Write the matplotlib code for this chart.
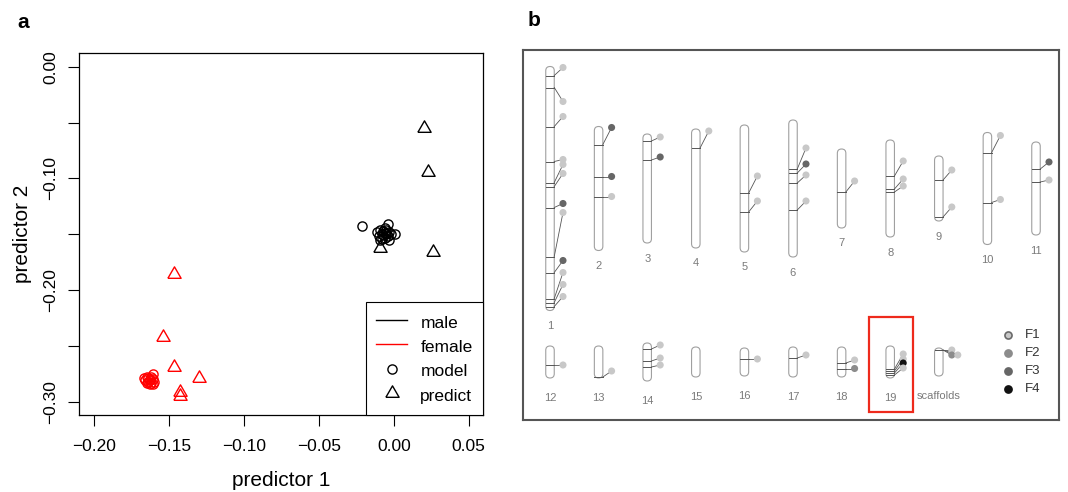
import numpy as np
import matplotlib
matplotlib.use('Agg')
import matplotlib.pyplot as plt
from matplotlib.patches import FancyBboxPatch, Rectangle
from matplotlib.lines import Line2D
from matplotlib.ticker import FuncFormatter

plt.rcParams['font.family'] = ['Liberation Sans', 'DejaVu Sans']

# ---- panel a: discriminant scores ----
male_model_x = [-0.021, -0.011, -0.010, -0.009, -0.008, -0.008, -0.007, -0.007, -0.006, -0.006,
                -0.005, -0.005, -0.004, -0.004, -0.003, -0.003, -0.002, 0.001, -0.009, -0.006]
male_model_y = [-0.143, -0.148, -0.152, -0.146, -0.150, -0.154, -0.147, -0.151, -0.149, -0.153,
                -0.146, -0.150, -0.141, -0.152, -0.148, -0.155, -0.150, -0.150, -0.155, -0.144]
male_pred_x = [0.020, 0.023, 0.026, -0.009]
male_pred_y = [-0.055, -0.094, -0.166, -0.162]

female_model_x = [-0.167, -0.166, -0.165, -0.164, -0.164, -0.163, -0.163, -0.162,
                  -0.162, -0.161, -0.161, -0.160, -0.165, -0.161, -0.163]
female_model_y = [-0.279, -0.281, -0.278, -0.282, -0.279, -0.281, -0.284, -0.278,
                  -0.283, -0.275, -0.280, -0.282, -0.283, -0.284, -0.280]
female_pred_x = [-0.147, -0.154, -0.147, -0.130, -0.143, -0.143]
female_pred_y = [-0.186, -0.242, -0.269, -0.279, -0.291, -0.295]

x_ticks = [-0.20, -0.15, -0.10, -0.05, 0.00, 0.05]
y_ticks = [0.00, -0.05, -0.10, -0.15, -0.20, -0.25, -0.30]
y_tick_labels = ['0.00', '', '\u22120.10', '', '\u22120.20', '', '\u22120.30']

# ---- panel b: marker positions on chromosomes ----
chrom_names = ['1', '2', '3', '4', '5', '6', '7', '8', '9', '10', '11',
               '12', '13', '14', '15', '16', '17', '18', '19', 'scaffolds']
chrom_len = [244, 124, 109, 119, 127, 137, 79, 97, 65, 112, 93,
             32, 32, 38, 30, 28, 30, 30, 32, 28]

# one entry per marker: chromosome index, locus position, label dot position, family, stack column
marker_chrom = [0] * 12 + [1] * 3 + [2] * 2 + [3] + [4] * 2 + [5] * 4 + [6] + [7] * 3 + [8] * 2 \
    + [9] * 2 + [10] * 2 + [11] + [12] + [13] * 3 + [15] + [16] + [17] * 2 + [18] * 4 + [19] * 3
marker_pos = [9, 21, 60, 95, 116, 120, 141, 190, 206, 232, 236, 240,
              18, 50, 70,
              7, 26,
              19,
              68, 87,
              49, 53, 63, 90,
              43,
              36, 49, 52,
              24, 61,
              20, 70,
              27, 40,
              19,
              31,
              6, 18, 24,
              11,
              11,
              16, 21.5,
              23, 25, 27, 29,
              2, 2, 2]
marker_dot = [1, 35, 50, 93, 98, 107, 137, 146, 194, 206, 218, 230,
              1, 50, 70,
              3, 23,
              2,
              51, 76,
              28, 44, 55, 81,
              32,
              21, 39, 46,
              14, 51,
              3, 67,
              20, 38,
              19,
              25,
              2, 15, 22,
              11,
              8,
              13, 21.5,
              8, 13, 17, 22,
              2, 7, 7]
marker_family = [1, 1, 1, 1, 1, 1, 3, 1, 3, 1, 1, 1,
                 3, 3, 1,
                 1, 3,
                 1,
                 1, 1,
                 1, 3, 1, 1,
                 1,
                 1, 1, 1,
                 1, 1,
                 1, 1,
                 3, 1,
                 1,
                 1,
                 1, 1, 1,
                 1,
                 1,
                 1, 2,
                 1, 1, 4, 1,
                 1, 2, 1]
marker_col = [0] * (len(marker_pos) - 1) + [1]

family_names = ['F1', 'F2', 'F3', 'F4']
family_colors = {1: '#c8c8c8', 2: '#8c8c8c', 3: '#666666', 4: '#111111'}
highlight_chrom = 18

fig = plt.figure(figsize=(10.68, 4.92), dpi=100)

# ---------------- panel a ----------------
ax = fig.add_axes([79 / 1068, 77 / 492, 404 / 1068, 362 / 492])
tri = [(-1.0, -0.577), (1.0, -0.577), (0.0, 1.155), (-1.0, -0.577)]
ax.plot(male_model_x, male_model_y, ls='none', marker='o', ms=6.6, mfc='none', mec='black', mew=1.0)
ax.plot(male_pred_x, male_pred_y, ls='none', marker=tri, ms=11, mfc='none', mec='black', mew=1.0)
ax.plot(female_model_x, female_model_y, ls='none', marker='o', ms=6.6, mfc='none', mec='red', mew=1.0)
ax.plot(female_pred_x, female_pred_y, ls='none', marker=tri, ms=11, mfc='none', mec='red', mew=1.0)

ax.set_xlim(-0.2102, 0.0596)
ax.set_ylim(-0.3119, 0.0123)
ax.set_xticks(x_ticks)
ax.xaxis.set_major_formatter(FuncFormatter(lambda v, _: f"{v:.2f}".replace('-', '\u2212')))
ax.set_yticks(y_ticks)
ax.set_yticklabels(y_tick_labels)
ax.tick_params(axis='both', direction='out', length=8, width=0.8, labelsize=12.5, colors='black')
ax.tick_params(axis='x', pad=9)
ax.tick_params(axis='y', pad=7, labelrotation=90)
plt.setp(ax.get_yticklabels(), va='center')
for s in ax.spines.values():
    s.set_linewidth(0.9)

ax.set_xlabel('predictor 1', fontsize=15)
ax.set_ylabel('predictor 2', fontsize=15)
ax.xaxis.label.set_va('center')
ax.xaxis.set_label_coords(0.5, (415 - 481) / 362)
ax.yaxis.label.set_va('center')
ax.yaxis.set_label_coords((23 - 79) / 404, 0.5)

handles = [Line2D([], [], color='black', lw=1.0),
           Line2D([], [], color='red', lw=1.0),
           Line2D([], [], ls='none', marker='o', ms=6.6, mfc='none', mec='black', mew=1.0),
           Line2D([], [], ls='none', marker=tri, ms=11, mfc='none', mec='black', mew=1.0)]
leg = ax.legend(handles, ['male', 'female', 'model', 'predict'], loc='lower right',
                bbox_to_anchor=(1, 0), borderaxespad=0, fontsize=12.5, fancybox=False,
                edgecolor='black', framealpha=1, borderpad=0.6, labelspacing=0.3,
                handleheight=1.32, handlelength=1.8, handletextpad=0.75)
leg.get_frame().set_linewidth(0.8)

fig.text(23 / 1068, 1 - 22 / 492, 'a', fontsize=15, fontweight='bold', ha='center', va='center')

# ---------------- panel b ----------------
bx = fig.add_axes([523 / 1068, 72 / 492, 536 / 1068, 370.5 / 492])
bx.set_xlim(0, 536)
bx.set_ylim(370.5, 0)
bx.set_xticks([])
bx.set_yticks([])
for s in bx.spines.values():
    s.set_linewidth(1.5)
    s.set_color('#555555')

slot_x0, slot_dx = 27, 48.6
row_center = [139, 312.5]
label_gap = [15.5, 20]
chrom_w = 8.5
dot_dx, col_dx = 13, 6


def chrom_geometry(i):
    row = 0 if i < 11 else 1
    slot = i if row == 0 else i - 11
    x = slot_x0 + slot * slot_dx
    top = row_center[row] - chrom_len[i] / 2
    return x, top, row


for i, name in enumerate(chrom_names):
    x, top, row = chrom_geometry(i)
    body = FancyBboxPatch((x - chrom_w / 2, top), chrom_w, chrom_len[i],
                          boxstyle=f"round,pad=0,rounding_size={chrom_w / 2}",
                          fc='white', ec='#a0a0a0', lw=0.8, zorder=2)
    bx.add_patch(body)
    bx.text(x, top + chrom_len[i] + label_gap[row], name, fontsize=8, color='#7a7a7a',
            ha='center', va='center')

for c, pos, dot, fam, col in zip(marker_chrom, marker_pos, marker_dot, marker_family, marker_col):
    x, top, row = chrom_geometry(c)
    yb = top + pos
    yd = top + dot
    xd = x + dot_dx + col * col_dx
    bx.plot([x - chrom_w / 2, x + chrom_w / 2], [yb, yb], color='#555555', lw=0.7, zorder=3)
    bx.plot([x + chrom_w / 2, xd], [yb, yd], color='#555555', lw=0.6, zorder=3)
    bx.scatter([xd], [yd], s=26, color=family_colors[fam], edgecolors='none', zorder=4)

hx, htop, hrow = chrom_geometry(highlight_chrom)
bx.add_patch(Rectangle((hx - 21, row_center[hrow] - 45), 44, 95, fill=False,
                       ec='#ee2a1c', lw=1.6, zorder=5))

for k, fname in enumerate(family_names):
    ly = 285.5 + k * 18
    ec = '#6a6a6a' if k == 0 else family_colors[k + 1]
    bx.scatter([485], [ly], s=26, color=family_colors[k + 1], edgecolors=ec, linewidths=1.2, zorder=4)
    bx.text(502, ly, fname, fontsize=9.5, color='#333333', ha='left', va='center')

fig.text(534 / 1068, 1 - 20 / 492, 'b', fontsize=15, fontweight='bold', ha='center', va='center')

fig.savefig('out.png', dpi=100)
